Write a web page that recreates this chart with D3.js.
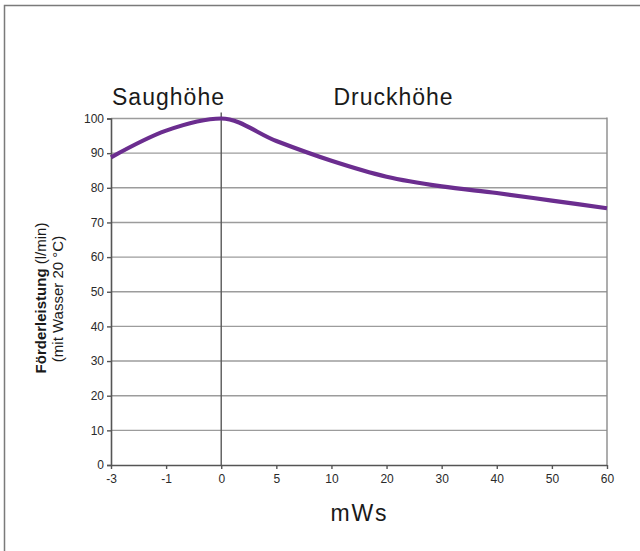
<!DOCTYPE html>
<html>
<head>
<meta charset="utf-8">
<script src="https://cdn.jsdelivr.net/npm/d3@7/dist/d3.min.js"></script>
<style>
  html, body { margin: 0; padding: 0; background: #fff; }
  svg { display: block; }
  text { font-family: "Liberation Sans", Arial, Helvetica, sans-serif; }
</style>
</head>
<body>
<script>
// Data
const categories = ["-3", "-1", "0", "5", "10", "20", "30", "40", "50", "60"];
const flowValues = [88.8, 96.5, 100, 93.5, 87.8, 83.2, 80.4, 78.5, 76.3, 74.1];
const yTicks = [0, 10, 20, 30, 40, 50, 60, 70, 80, 90, 100];
const regionLabels = ["Saughöhe", "Druckhöhe"];
const xTitle = "mWs";
const yTitleBold = "Förderleistung";
const yTitleRest = " (l/min)";
const yTitleLine2 = "(mit Wasser 20 °C)";

const W = 640, H = 551;
const m = { left: 111, right: 33, top: 118.5, bottom: 86 };

const svg = d3.select("body").append("svg")
  .attr("width", W).attr("height", H);

// frame (top + left border)
svg.append("path")
  .attr("d", `M4.5,${H} L4.5,5.5 L${W},5.5`)
  .attr("fill", "none").attr("stroke", "#7a7a7a").attr("stroke-width", 1.5);

const x = d3.scalePoint().domain(categories).range([m.left, W - m.right]);
const y = d3.scaleLinear().domain([0, 100]).range([H - m.bottom, m.top]);

const g = svg.append("g");

// horizontal gridlines
g.selectAll("line.hgrid").data(yTicks.filter(d => d > 0)).join("line")
  .attr("class", "hgrid")
  .attr("x1", m.left).attr("x2", W - m.right)
  .attr("y1", d => y(d)).attr("y2", d => y(d))
  .attr("stroke", "#9c9c9c").attr("stroke-width", 1.4);

// vertical line at 0 and right border
g.selectAll("line.vgrid").data(["0", "60"]).join("line")
  .attr("class", "vgrid")
  .attr("x1", d => x(d)).attr("x2", d => x(d))
  .attr("y1", d => d === "0" ? y(100) - 6 : y(100) - 1).attr("y2", y(0))
  .attr("stroke", d => d === "0" ? "#5a5a5a" : "#8a8a8a")
  .attr("stroke-width", 1.4);

// axes
const yAxis = d3.axisLeft(y).tickValues(yTicks).tickSize(4).tickPadding(3);
const ya = svg.append("g").attr("transform", `translate(${m.left},0)`).call(yAxis);
ya.select(".domain").attr("stroke", "#555").attr("stroke-width", 1.6);
ya.selectAll(".tick line").attr("stroke", "#555").attr("stroke-width", 1.4);
ya.selectAll(".tick text").attr("fill", "#2a2a2a").style("font-size", "12px")
  .style("font-family", "'Liberation Sans', Arial, sans-serif");

const xAxis = d3.axisBottom(x).tickSize(4).tickPadding(5);
const xa = svg.append("g").attr("transform", `translate(0,${y(0)})`).call(xAxis);
xa.select(".domain").attr("stroke", "#555").attr("stroke-width", 1.6)
  .attr("d", `M${m.left},0.5H${W - m.right}`);
xa.selectAll(".tick line").attr("stroke", "#555").attr("stroke-width", 1.4);
xa.selectAll(".tick text").attr("fill", "#2a2a2a").style("font-size", "12px")
  .style("font-family", "'Liberation Sans', Arial, sans-serif");

// curve
const line = d3.line()
  .x((d, i) => x(categories[i]))
  .y(d => y(d))
  .curve(d3.curveMonotoneX);
svg.append("path")
  .datum(flowValues)
  .attr("d", line)
  .attr("fill", "none")
  .attr("stroke", "#6b2d8f")
  .attr("stroke-width", 4.2)
  .attr("stroke-linecap", "butt")
  .attr("stroke-linejoin", "round");

// region labels
svg.append("text").attr("x", 168).attr("y", 105)
  .attr("text-anchor", "middle").attr("fill", "#1a1a1a")
  .attr("textLength", 112).attr("lengthAdjust", "spacing")
  .style("font-size", "23px").text(regionLabels[0]);
svg.append("text").attr("x", 393).attr("y", 105)
  .attr("text-anchor", "middle").attr("fill", "#1a1a1a")
  .attr("textLength", 119).attr("lengthAdjust", "spacing")
  .style("font-size", "23px").text(regionLabels[1]);

// x title
svg.append("text").attr("x", 358.5).attr("y", 521)
  .attr("text-anchor", "middle").attr("fill", "#1a1a1a")
  .attr("textLength", 56).attr("lengthAdjust", "spacing")
  .style("font-size", "23px").text(xTitle);

// y title (two lines, rotated)
const yt = svg.append("text")
  .attr("transform", `translate(46,298) rotate(-90)`)
  .attr("text-anchor", "middle").attr("fill", "#1a1a1a")
  .style("font-size", "15px");
yt.append("tspan").style("font-weight", "bold").text(yTitleBold);
yt.append("tspan").text(yTitleRest);
svg.append("text")
  .attr("transform", `translate(63,299) rotate(-90)`)
  .attr("text-anchor", "middle").attr("fill", "#1a1a1a")
  .style("font-size", "15px").text(yTitleLine2);
</script>
</body>
</html>
